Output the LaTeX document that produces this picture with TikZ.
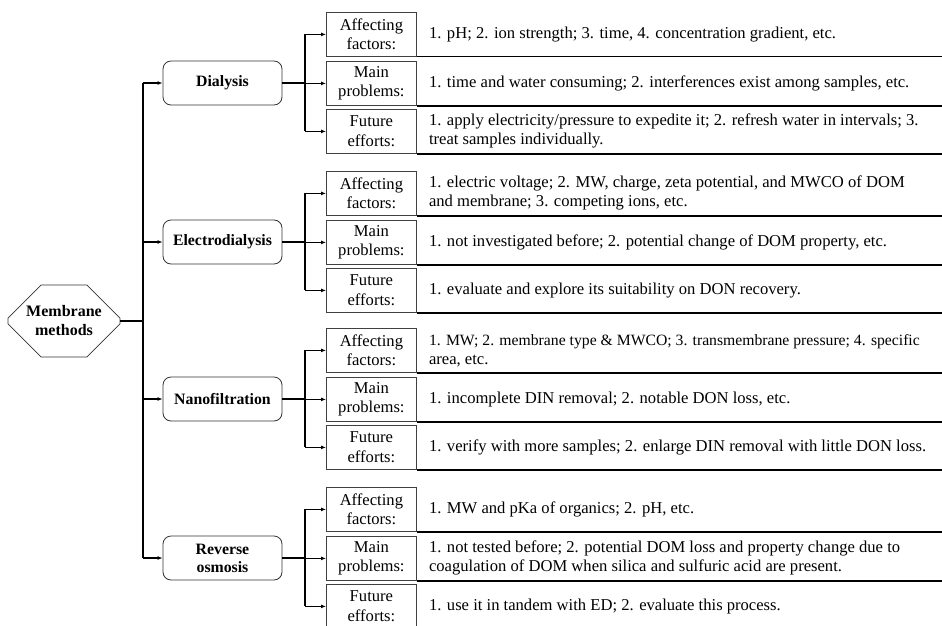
\documentclass[tikz,border=0pt]{standalone}
\usepackage{fontspec}
\setmainfont{Liberation Serif}
\usetikzlibrary{shapes.misc,arrows.meta}
\newcommand\myrow[4]{%
  \node[lab] (#1) at (326,#2) {#3};
  \node[desc] (#1d) at ([xshift=12pt]#1.east) {#4};
  \draw[rulel] (#1.south east) -- (#1.south east -| R);}
\begin{document}
\begin{tikzpicture}[x=1pt,y=-1pt,
  lab/.style={draw=black!75,line width=0.8pt,minimum width=90pt,minimum height=44pt,inner sep=0pt,align=center,font=\fontsize{16.6}{19.5}\selectfont,anchor=north west},
  desc/.style={anchor=west,align=left,inner sep=0pt,font=\fontsize{16.6}{19}\selectfont},
  meth/.style={draw=black!80,line width=0.8pt,rounded corners=8pt,minimum width=119pt,minimum height=44pt,inner sep=0pt,align=center,font=\bfseries\fontsize{15.8}{18}\selectfont},
  conn/.style={line width=1.1pt},
  arr/.style={conn,-{Latex[length=5pt,width=4pt]}},
  rulel/.style={line width=1.4pt}]
\useasboundingbox (0,0) rectangle (942,626);
\coordinate (R) at (942,0);
\coordinate (T) at (143,0);
\coordinate (B) at (305,0);

\node[chamfered rectangle, chamfered rectangle xsep=25pt, chamfered rectangle ysep=18pt, draw=black!80, line width=0.8pt, minimum width=112pt, minimum height=72pt, inner sep=0pt, align=center, font=\bfseries\fontsize{16}{19}\selectfont] (mm) at (64,321) {Membrane\\methods};

\node[meth] (m1) at (222.5,83) {Dialysis};
\node[meth] (m2) at (222.5,242) {Electrodialysis};
\node[meth] (m3) at (222.5,399) {Nanofiltration};
\node[meth] (m4) at (222.5,558) {Reverse\\osmosis};

% Dialysis
\myrow{a1}{12}{Affecting\\factors:}{1. pH; 2. ion strength; 3. time, 4. concentration gradient, etc.}
\myrow{p1}{61}{Main\\problems:}{1. time and water consuming; 2. interferences exist among samples, etc.}
\myrow{f1}{109}{Future\\efforts:}{1. apply electricity/pressure to expedite it; 2. refresh water in intervals; 3.\\treat samples individually.}
% Electrodialysis
\myrow{a2}{171}{Affecting\\factors:}{1. electric voltage; 2. MW, charge, zeta potential, and MWCO of DOM\\and membrane; 3. competing ions, etc.}
\myrow{p2}{220}{Main\\problems:}{1. not investigated before; 2. potential change of DOM property, etc.}
\myrow{f2}{268}{Future\\efforts:}{1. evaluate and explore its suitability on DON recovery.}
% Nanofiltration
\myrow{a3}{328}{Affecting\\factors:}{\fontsize{15.7}{19}\selectfont 1. MW; 2. membrane type \& MWCO; 3. transmembrane pressure; 4. specific\\area, etc.}
\myrow{p3}{377}{Main\\problems:}{1. incomplete DIN removal; 2. notable DON loss, etc.}
\myrow{f3}{425}{Future\\efforts:}{1. verify with more samples; 2. enlarge DIN removal with little DON loss.}
% Reverse osmosis
\myrow{a4}{487}{Affecting\\factors:}{1. MW and pKa of organics; 2. pH, etc.}
\myrow{p4}{536}{Main\\problems:}{1. not tested before; 2. potential DOM loss and property change due to\\coagulation of DOM when silica and sulfuric acid are present.}
\myrow{f4}{584}{Future\\efforts:}{1. use it in tandem with ED; 2. evaluate this process.}

% trunk
\draw[conn] (mm.east) -- (T |- mm.east);
\draw[conn] (T |- m1) -- (T |- m4);
\foreach \m in {m1,m2,m3,m4} \draw[arr] (T |- \m) -- (\m.west);

% branches
\foreach \i in {1,2,3,4} {
  \draw[conn] (m\i.east) -- (B |- m\i);
  \draw[conn] (B |- a\i) -- (B |- f\i);
  \foreach \r in {a,p,f} \draw[arr] (B |- \r\i) -- (\r\i.west);
}
\end{tikzpicture}
\end{document}
